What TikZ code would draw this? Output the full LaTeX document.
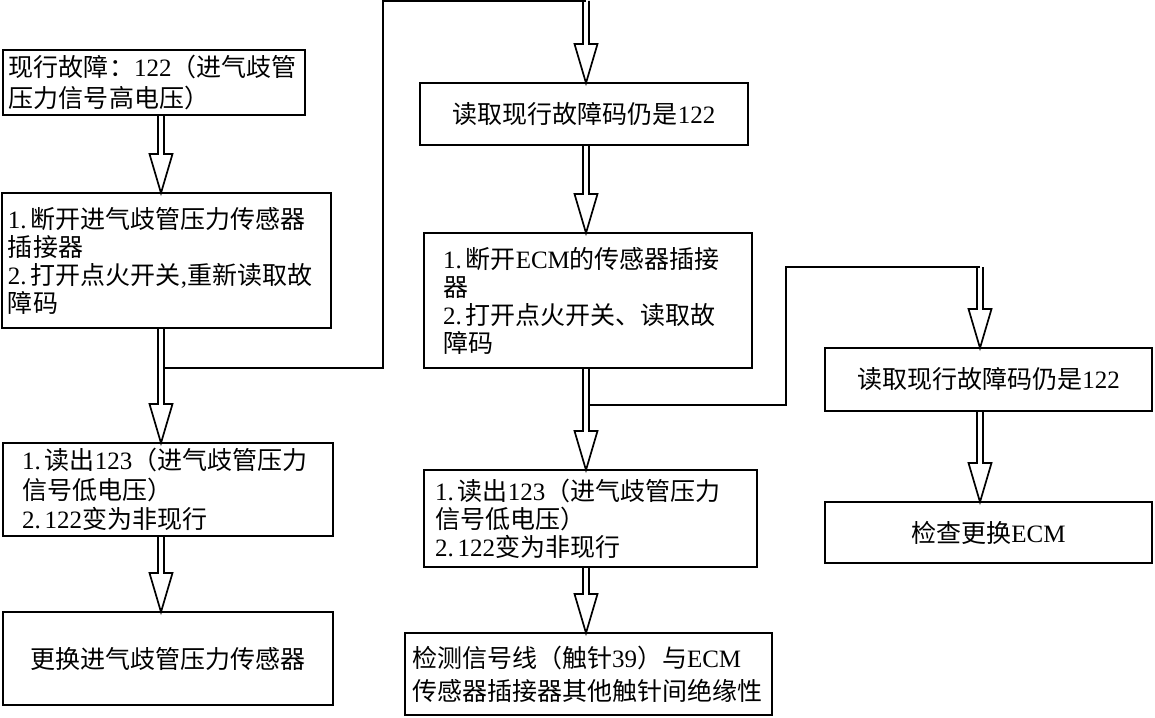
\documentclass[tikz,border=0pt]{standalone}
\usepackage{fontspec}
\setmainfont{Liberation Serif}
\newfontfamily\cjk{Noto Sans CJK SC}
\usetikzlibrary{calc}
\newcommand\latn[1]{{\rmfamily #1}}
\newcommand\num[1]{{\rmfamily #1.}\hspace{4pt}}
\newcommand\hollowarrow[2]{%
  \draw[arrowline] let \p1=#1, \p2=#2 in
    (\x1-3pt,\y1) -- (\x1-3pt,\y2+39pt) -- (\x1-11.5pt,\y2+39pt) -- (\x1,\y2)
    -- (\x1+11.5pt,\y2+39pt) -- (\x1+3pt,\y2+39pt) -- (\x1+3pt,\y1);}
\begin{document}
\begin{tikzpicture}[x=1pt,y=-1pt,
  box/.style={draw, line width=2.8pt, anchor=north west, outer sep=0pt, inner ysep=0pt,
    font=\cjk\fontsize{25}{28}\selectfont},
  lbox/.style={box, align=left},
  cbox/.style={box, align=center},
  arrowline/.style={line width=1.7pt, line join=miter},
  conn/.style={line width=1.7pt}]
\useasboundingbox (0,0) rectangle (1155,717);

\node[lbox, font=\cjk\fontsize{25}{32}\selectfont, inner xsep=6pt, text width=290pt, minimum width=302pt, minimum height=65pt] (a) at (3,50)
  {现行故障：\latn{122}（进气歧管\\压力信号高电压）};
\node[lbox, inner xsep=6pt, text width=317pt, minimum width=329pt, minimum height=135pt] (b) at (2,193)
  {\num{1}断开进气歧管压力传感器\\插接器\\\num{2}打开点火开关\latn{,}重新读取故\\障码};
\node[lbox, font=\cjk\fontsize{25}{29.5}\selectfont, inner xsep=19pt, text width=292pt, minimum width=330pt, minimum height=93pt] (c) at (3,443)
  {\num{1}读出\latn{123}（进气歧管压力\\信号低电压）\\\num{2}\latn{122}变为非现行};
\node[cbox, minimum width=330pt, minimum height=93pt] (d) at (3,612)
  {更换进气歧管压力传感器};

\node[cbox, minimum width=328pt, minimum height=62pt] (e) at (420,83)
  {读取现行故障码仍是\latn{122}};
\node[lbox, inner xsep=19pt, text width=290pt, minimum width=328pt, minimum height=135pt] (f) at (424,233)
  {\num{1}断开\latn{ECM}的传感器插接\\器\\\num{2}打开点火开关、读取故\\障码};
\node[lbox, inner xsep=11pt, text width=311pt, minimum width=333pt, minimum height=97pt] (g) at (424,470)
  {\num{1}读出\latn{123}（进气歧管压力\\信号低电压）\\\num{2}\latn{122}变为非现行};
\node[lbox, font=\cjk\fontsize{25}{33}\selectfont, inner xsep=7pt, text width=353pt, minimum width=367pt, minimum height=82pt] (h) at (405,633)
  {检测信号线（触针\latn{39}）与\latn{ECM}\\传感器插接器其他触针间绝缘性};

\node[cbox, minimum width=327pt, minimum height=63pt] (i) at (825,348)
  {读取现行故障码仍是\latn{122}};
\node[cbox, minimum width=327pt, minimum height=61pt] (j) at (825,502)
  {检查更换\latn{ECM}};

% main arrows
\hollowarrow{(161,0 |- a.south)}{(161,0 |- b.north)}
\hollowarrow{(161,0 |- b.south)}{(161,0 |- c.north)}
\hollowarrow{(161,0 |- c.south)}{(161,0 |- d.north)}
\hollowarrow{(586,0 |- e.south)}{(586,0 |- f.north)}
\hollowarrow{(586,0 |- f.south)}{(586,0 |- g.north)}
\hollowarrow{(586,0 |- g.south)}{(586,0 |- h.north)}
\hollowarrow{(980,0 |- i.south)}{(980,0 |- j.north)}

% branch from left column to E
\coordinate (s1) at (164,368);
\coordinate (t1) at (586,1);
\draw[conn] (s1) -- (383,368) -- (383,1) -- (t1);
\hollowarrow{(t1)}{(t1 |- e.north)}

% branch from middle column to I
\coordinate (s2) at (589,405);
\coordinate (t2) at (980,267);
\draw[conn] (s2) -- (786,405) -- (786,267) -- (t2);
\hollowarrow{(t2)}{(t2 |- i.north)}
\end{tikzpicture}
\end{document}
